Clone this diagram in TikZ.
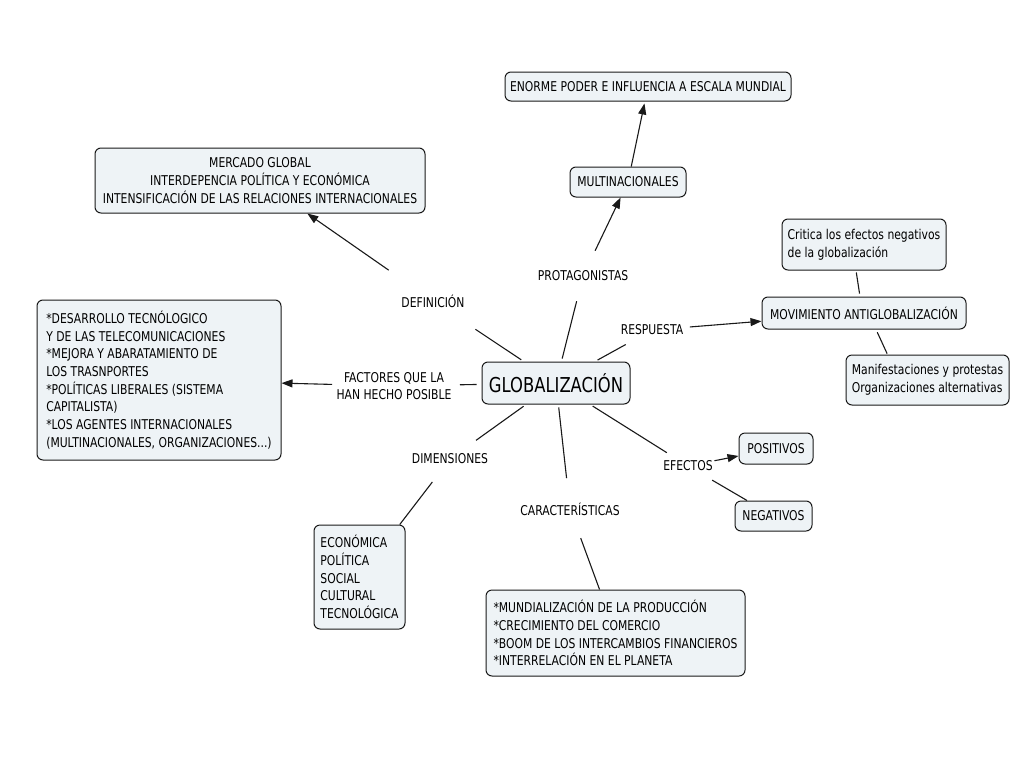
\documentclass[tikz,border=0pt]{standalone}
\usepackage{fontspec}
\setmainfont{DejaVu Sans}[FakeStretch=0.8]
\usetikzlibrary{arrows.meta}
\definecolor{boxfill}{RGB}{238,243,246}
\definecolor{inkc}{RGB}{25,25,25}
\newcommand\mapfont{\fontsize{13.5}{17.7}\selectfont}
\newcommand\bigmapfont{\fontsize{20.5}{24}\selectfont}
\begin{document}
\begin{tikzpicture}[x=1pt,y=-1pt,
  box/.style={draw=inkc, line width=1pt, rounded corners=6pt, fill=boxfill,
    inner xsep=4pt, inner ysep=3pt, font=\mapfont, text=black},
  lbl/.style={inner sep=0pt, font=\mapfont, align=center, text=black},
  conn/.style={draw=inkc, line width=1.1pt},
  arr/.style={conn, -{Triangle[length=11pt,width=8pt]}},
]
\path[use as bounding box, fill=white] (0,0) rectangle (1024,768);

% boxes
\node[box, minimum width=286pt, minimum height=29pt] (enorme) at (648,86.5) {ENORME PODER E INFLUENCIA A ESCALA MUNDIAL};
\node[box, minimum width=330pt, minimum height=65pt, align=center] (merc) at (260,180.5)
  {MERCADO GLOBAL\\INTERDEPENCIA POLÍTICA Y ECONÓMICA\\INTENSIFICACIÓN DE LAS RELACIONES INTERNACIONALES};
\node[box, minimum width=116pt, minimum height=30pt] (multi) at (628,182) {MULTINACIONALES};
\node[box, minimum width=244pt, minimum height=160pt, align=left] (des) at (159,380)
  {*DESARROLLO TECNÓLOGICO\\Y DE LAS TELECOMUNICACIONES\\{}*MEJORA Y ABARATAMIENTO DE\\LOS TRASNPORTES\\{}*POLÍTICAS LIBERALES (SISTEMA\\CAPITALISTA)\\{}*LOS AGENTES INTERNACIONALES\\(MULTINACIONALES, ORGANIZACIONES...)};
\node[box, font=\bigmapfont, minimum width=148pt, minimum height=42pt] (glob) at (556,383) {GLOBALIZACIÓN};
\node[box, minimum width=164pt, minimum height=51pt, align=left] (crit) at (864,244.5)
  {Critica los efectos negativos\\de la globalización};
\node[box, minimum width=204pt, minimum height=32pt] (mov) at (864,313) {MOVIMIENTO ANTIGLOBALIZACIÓN};
\node[box, minimum width=163pt, minimum height=50pt, align=left] (manif) at (927.5,380)
  {Manifestaciones y protestas\\Organizaciones alternativas};
\node[box, minimum width=74pt, minimum height=31pt] (pos) at (776,448.5) {POSITIVOS};
\node[box, minimum width=77pt, minimum height=30pt] (neg) at (773.5,516) {NEGATIVOS};
\node[box, minimum width=91pt, minimum height=104pt, align=left] (econ) at (359.5,577)
  {ECONÓMICA\\POLÍTICA\\SOCIAL\\CULTURAL\\TECNOLÓGICA};
\node[box, minimum width=259pt, minimum height=86pt, align=left] (mund) at (615.5,633)
  {*MUNDIALIZACIÓN DE LA PRODUCCIÓN\\{}*CRECIMIENTO DEL COMERCIO\\{}*BOOM DE LOS INTERCAMBIOS FINANCIEROS\\{}*INTERRELACIÓN EN EL PLANETA};

% linking labels
\node[lbl] (def) at (433,301) {DEFINICIÓN};
\node[lbl] (prot) at (583,276) {PROTAGONISTAS};
\node[lbl] (resp) at (652,330) {RESPUESTA};
\node[lbl] (fact) at (394,386) {FACTORES QUE LA\\HAN HECHO POSIBLE};
\node[lbl] (dim) at (450,459) {DIMENSIONES};
\node[lbl] (car) at (570,509) {CARACTERÍSTICAS};
\node[lbl] (ef) at (688,466) {EFECTOS};

% connectors
\draw[conn, shorten <=3pt, shorten >=51pt] (glob) -- (def.center);
\draw[arr, shorten <=54pt] (def.center) -- (merc);
\draw[conn, shorten <=3pt, shorten >=26pt] (glob) -- (prot.center);
\draw[arr, shorten <=28pt] (prot.center) -- (multi);
\draw[arr, shorten >=2pt] (multi) -- (enorme);
\draw[conn, shorten <=3pt, shorten >=30pt] (glob) -- (resp.center);
\draw[arr, shorten <=38pt] (resp.center) -- (mov);
\draw[conn, shorten <=2pt, shorten >=3pt] ([xshift=-8pt]crit.south) -- ([xshift=-4pt]mov.north);
\draw[conn, shorten <=3pt, shorten >=1pt] ([xshift=12pt]mov.south) -- ([xshift=-40pt]manif.north);
\draw[conn, shorten <=5pt, shorten >=66pt] (glob) -- (fact.center);
\draw[arr, shorten <=62pt] (fact.center) -- (des);
\draw[conn, shorten <=3pt, shorten >=32pt] (glob) -- (dim.center);
\draw[conn, shorten <=29pt] (dim.center) -- (econ);
\draw[conn, shorten <=3pt, shorten >=31pt] (glob) -- (car.center);
\draw[conn, shorten <=31pt] (car.center) -- (mund);
\draw[conn, shorten <=3pt, shorten >=25pt] (glob) -- (ef.center);
\draw[arr, shorten <=27pt] (ef.center) -- (pos);
\draw[conn, shorten <=28pt] (ef.center) -- (neg);
\end{tikzpicture}
\end{document}
